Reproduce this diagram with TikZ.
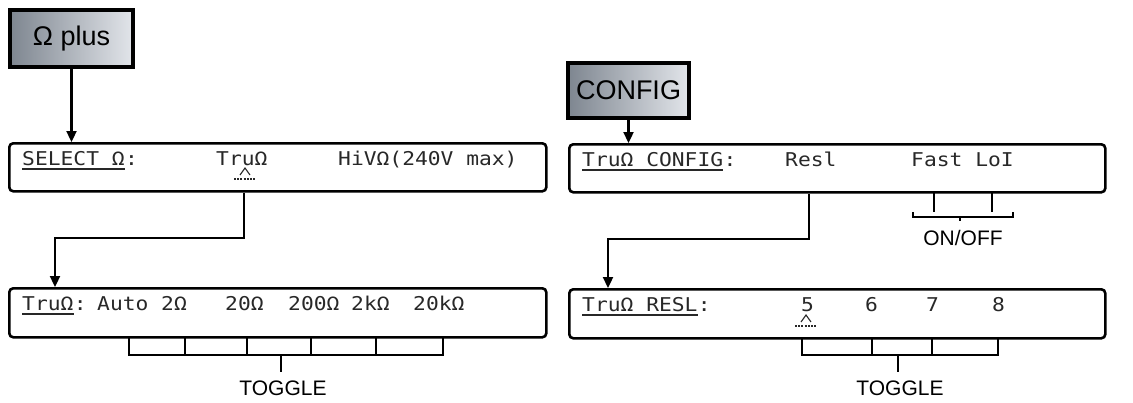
\documentclass[tikz,border=0pt]{standalone}
\usepackage{fontspec}
\setmainfont{Liberation Sans}
\newfontfamily\lcdfont[FakeStretch=1.12]{DejaVu Sans Mono}
\usetikzlibrary{arrows.meta}
\definecolor{btnL}{RGB}{126,134,144}
\definecolor{btnR}{RGB}{226,229,234}
\definecolor{lcdc}{RGB}{40,40,40}
\begin{document}
\begin{tikzpicture}[x=1pt,y=-1pt,
  lcdbox/.style={draw, line width=2.6pt, rounded corners=4pt, inner sep=0pt, anchor=north west},
  btn/.style={draw, line width=4pt, left color=btnL, right color=btnR, inner sep=0pt, font=\fontsize{27}{27}\selectfont},
  lcd/.style={inner sep=0pt, anchor=base west, text=lcdc, font=\lcdfont\fontsize{19}{19}\selectfont},
  uline/.style={line width=1.2pt, lcdc},
  link/.style={line width=2.3pt, -{Triangle[length=11pt,width=10pt]}},
  wire/.style={line width=2.2pt, line join=miter},
  lbl/.style={inner sep=0pt, font=\fontsize{21}{21}\selectfont},
  lcdcaret/.pic={
    \draw[line width=1.1pt, lcdc] (-5,4) -- (0,-3) -- (5,4);
    \draw[line width=1.2pt, lcdc, dash pattern=on 2pt off 1.2pt] (-11,8) -- (11,8);
  }
]
\useasboundingbox (0,0) rectangle (1133,402);

% buttons
\node[btn, minimum width=123pt, minimum height=57pt] (bo) at (71.5,38.5) {Ω plus};
\node[btn, minimum width=121pt, minimum height=55pt] (bc) at (628.5,90.5) {CONFIG};

% displays
\node[lcdbox, minimum width=537pt, minimum height=48pt] (d1) at (8,142) {};
\node[lcdbox, minimum width=537pt, minimum height=49pt] (d2) at (8,287) {};
\node[lcdbox, minimum width=536pt, minimum height=48pt] (d3) at (568,143) {};
\node[lcdbox, minimum width=536pt, minimum height=49pt] (d4) at (568,288) {};

% display 1 text
\node[lcd] (t1a) at (22,165) {SELECT\_Ω};
\node[lcd] (t1b) at (t1a.base east) {:};
\node[lcd] (t1c) at (216,165) {TruΩ};
\node[lcd] (t1d) at (338,165) {HiVΩ(240V max)};
\draw[uline] ([yshift=-4pt]t1a.base west) -- ([yshift=-4pt]t1a.base east);
\pic at (245,171) {lcdcaret};

% display 2 text
\node[lcd] (t2a) at (22,310) {TruΩ};
\node[lcd] (t2b) at (t2a.base east) {:};
\node[lcd] (t2c) at (97,310) {Auto};
\node[lcd] (t2d) at (161,310) {2Ω};
\node[lcd] (t2e) at (225,310) {20Ω};
\node[lcd] (t2f) at (288,310) {200Ω};
\node[lcd] (t2g) at (351,310) {2kΩ};
\node[lcd] (t2h) at (413,310) {20kΩ};
\draw[uline] ([yshift=-4pt]t2a.base west) -- ([yshift=-4pt]t2a.base east);

% display 3 text
\node[lcd] (t3a) at (582,166) {TruΩ\_CONFIG};
\node[lcd] (t3b) at (t3a.base east) {:};
\node[lcd] (t3c) at (785,166) {Resl};
\node[lcd] (t3d) at (911,166) {Fast LoI};
\draw[uline] ([yshift=-4pt]t3a.base west) -- ([yshift=-4pt]t3a.base east);

% display 4 text
\node[lcd] (t4a) at (582,311) {TruΩ\_RESL};
\node[lcd] (t4b) at (t4a.base east) {:};
\node[lcd] (t4c) at (801,311) {5};
\node[lcd] (t4d) at (865,311) {6};
\node[lcd] (t4e) at (926,311) {7};
\node[lcd] (t4f) at (992,311) {8};
\draw[uline] ([yshift=-4pt]t4a.base west) -- ([yshift=-4pt]t4a.base east);
\pic at (806,318) {lcdcaret};

% connectors
\draw[link] (bo.south) -- (bo.south |- d1.north);
\draw[link] (bc.south) -- (bc.south |- d3.north);
\coordinate (k1) at (244,238);
\coordinate (k2) at (55,238);
\draw[link] (k1 |- d1.south) -- (k1) -- (k2) -- (k2 |- d2.north);
\coordinate (k3) at (809,239);
\coordinate (k4) at (608,239);
\draw[link] (k3 |- d3.south) -- (k3) -- (k4) -- (k4 |- d4.north);

% left toggle bracket
\draw[wire] (129,337) -- (129,355) -- (443,355) -- (443,337);
\foreach \xx in {185,247,311,376} \draw[wire] (\xx,337) -- (\xx,355);
\node[lbl] (tg1) at (283,388) {TOGGLE};
\coordinate (s1) at (281,372);
\draw[wire] (281,355) -- (s1);

% right toggle bracket
\draw[wire] (802,337) -- (802,355) -- (998,355) -- (998,337);
\foreach \xx in {872,932} \draw[wire] (\xx,337) -- (\xx,355);
\node[lbl] (tg2) at (900,388) {TOGGLE};
\coordinate (s2) at (898,372);
\draw[wire] (898,355) -- (s2);

% ON/OFF bracket
\draw[wire] (934,191) -- (934,212);
\draw[wire] (992,191) -- (992,212);
\draw[wire] (913,212) -- (913,217) -- (1013,217) -- (1013,212);
\draw[wire] (960,217) -- (960,221);
\node[lbl] (oo) at (963,238) {ON/OFF};
\end{tikzpicture}
\end{document}
